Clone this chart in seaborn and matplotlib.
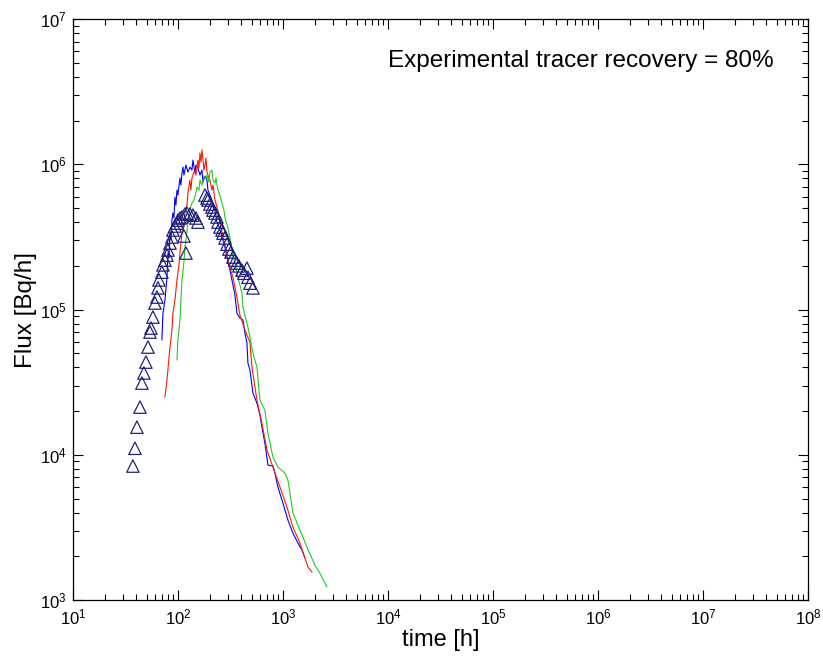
import numpy as np
import pandas as pd
import matplotlib
matplotlib.use('Agg')
import matplotlib.pyplot as plt
from matplotlib.ticker import LogLocator, NullFormatter
import seaborn as sns

# measured tracer breakthrough (open triangles)
obs_time = [37.0, 38.7, 40.4, 43.2, 45.1, 47.1, 49.2, 51.5, 53.8, 55.0, 57.4, 60.0,
            62.7, 64.1, 65.5, 69.9, 71.5, 74.7, 78.1, 79.8, 83.4, 87.1, 89.0, 93.0,
            97.2, 99.3, 103.8, 108.5, 115.8, 121.0, 129.3, 138.0, 147.4, 154.0,
            118.4, 113.3,
            179.6, 187.7, 191.8, 200.4, 209.4, 214.1, 223.7, 233.7, 238.9, 249.6,
            260.8, 266.6, 278.5, 290.9, 304.0, 317.6, 331.9, 346.7, 362.3, 378.5,
            404.4, 422.6, 451.2, 461.1, 481.8, 514.6]
obs_flux = [8.37e3, 1.11e4, 1.55e4, 2.13e4, 3.12e4, 3.66e4, 4.35e4, 5.52e4, 7.00e4,
            7.46e4, 8.88e4, 1.11e5, 1.22e5, 1.41e5, 1.60e5, 1.81e5, 2.03e5, 2.19e5,
            2.37e5, 2.57e5, 2.87e5, 3.16e5, 3.53e5, 3.76e5, 3.94e5, 4.13e5, 4.27e5,
            4.34e5, 4.55e5, 4.62e5, 4.55e5, 4.47e5, 4.27e5, 4.00e5,
            2.45e5, 3.21e5,
            6.14e5, 5.86e5, 5.68e5, 5.33e5, 5.08e5, 4.84e5, 4.62e5, 4.34e5, 4.00e5,
            3.70e5, 3.53e5, 3.36e5, 3.11e5, 2.82e5, 2.61e5, 2.49e5, 2.30e5, 2.19e5,
            2.09e5, 2.00e5, 1.87e5, 1.78e5, 1.93e5, 1.67e5, 1.52e5, 1.41e5]

# simulated curves
blue_time = [69.9, 71.5, 74.7, 78.1, 79.8, 81.5, 83.4, 85.2, 87.1, 89.0, 91.0, 93.0,
             95.1, 97.2, 99.3, 103.8, 106.1, 108.5, 110.9, 113.3, 118.4, 123.7, 129.3,
             135.0, 138.0, 144.2, 147.4, 154.0, 161.0, 168.2, 171.9, 179.6, 187.7,
             191.8, 200.4, 209.4, 214.1, 223.7, 233.7, 244.1, 249.6, 260.8, 278.5,
             297.4, 310.8, 324.7, 346.7, 362.3, 387.0, 413.3, 431.8, 451.2, 461.1,
             481.8, 514.6, 561.7, 599.8, 626.7, 669.5, 715.0, 797.9, 833.8, 890.2,
             993.4, 1109, 1237, 1380, 1507, 1609]
blue_flux = [6.17e4, 9.46e4, 1.16e5, 1.67e5, 2.45e5, 2.26e5, 3.36e5, 3.01e5, 4.13e5,
             4.62e5, 4.27e5, 5.95e5, 5.24e5, 6.65e5, 6.14e5, 8.04e5, 7.20e5, 8.71e5,
             9.57e5, 8.43e5, 9.88e5, 8.85e5, 9.57e5, 9.13e5, 1.07e6, 8.71e5, 9.88e5,
             9.42e5, 8.43e5, 9.13e5, 7.55e5, 8.30e5, 7.79e5, 6.65e5, 6.14e5, 5.68e5,
             5.08e5, 4.84e5, 4.00e5, 3.76e5, 3.53e5, 3.16e5, 2.69e5, 2.12e5, 1.87e5,
             1.60e5, 1.26e5, 9.46e4, 8.74e4, 8.47e4, 6.89e4, 5.88e4, 4.28e4, 3.83e4,
             2.66e4, 2.27e4, 1.88e4, 1.55e4, 1.20e4, 8.50e3, 8.37e3, 7.49e3, 6.00e3,
             4.65e3, 3.55e3, 2.89e3, 2.47e3, 2.21e3, 1.95e3]

red_time = [74.7, 78.1, 83.4, 87.1, 89.0, 93.0, 97.2, 101.6, 103.8, 108.5, 113.3, 115.8,
            121.0, 123.7, 129.3, 132.1, 135.0, 141.1, 144.2, 147.4, 154.0, 157.5, 161.0,
            164.5, 168.2, 171.9, 175.7, 179.6, 183.6, 187.7, 191.8, 200.4, 209.4, 214.1,
            223.7, 233.7, 244.1, 249.6, 260.8, 266.6, 278.5, 297.4, 310.8, 331.9, 362.3,
            387.0, 431.8, 481.8, 503.4, 561.7, 626.7, 699.5, 797.9, 930.3, 1085, 1237,
            1442, 1719, 1877]
red_flux = [2.50e4, 3.27e4, 5.52e4, 7.23e4, 9.46e4, 1.16e5, 1.60e5, 2.03e5, 2.45e5,
            3.36e5, 3.77e5, 4.62e5, 5.24e5, 6.34e5, 7.79e5, 6.65e5, 8.04e5, 8.85e5,
            9.13e5, 8.43e5, 1.07e6, 9.42e5, 1.195e6, 1.036e6, 1.254e6, 1.104e6, 9.13e5,
            9.88e5, 1.104e6, 8.85e5, 8.43e5, 7.79e5, 6.65e5, 7.20e5, 5.68e5, 5.08e5,
            4.47e5, 3.94e5, 3.42e5, 3.16e5, 2.78e5, 2.19e5, 1.93e5, 1.67e5, 1.22e5,
            9.16e4, 7.23e4, 5.97e4, 4.02e4, 2.38e4, 1.65e4, 1.08e4, 8.24e3, 6.00e3,
            4.37e3, 3.18e3, 2.47e3, 1.69e3, 1.56e3]

green_time = [97.2, 99.3, 103.8, 106.1, 108.5, 113.3, 115.8, 121.0, 123.7, 129.3, 135.0,
              141.1, 144.2, 150.7, 157.5, 161.0, 168.2, 175.7, 183.6, 187.7, 196.0,
              200.4, 209.4, 214.1, 223.7, 228.6, 238.9, 249.6, 260.8, 272.4, 278.5,
              297.4, 310.8, 331.9, 346.7, 370.3, 404.4, 413.3, 461.1, 514.6, 561.7,
              599.8, 669.5, 715.0, 797.9, 890.2, 1038, 1109, 1237, 1442, 1681, 2004,
              2236, 2608]
green_flux = [4.49e4, 6.17e4, 8.47e4, 1.16e5, 1.60e5, 2.12e5, 2.69e5, 3.42e5, 4.13e5,
              4.84e5, 5.41e5, 5.68e5, 5.95e5, 6.97e5, 6.65e5, 7.79e5, 7.20e5, 8.30e5,
              8.04e5, 8.43e5, 7.55e5, 8.85e5, 9.13e5, 7.79e5, 7.43e5, 8.04e5, 6.65e5,
              6.14e5, 5.41e5, 4.84e5, 4.33e5, 3.64e5, 3.16e5, 2.30e5, 2.12e5, 1.67e5,
              1.30e5, 1.04e5, 7.58e4, 5.02e4, 4.02e4, 2.38e4, 2.03e4, 1.41e4, 9.65e3,
              8.24e3, 7.49e3, 6.70e3, 3.97e3, 3.03e3, 2.32e3, 1.74e3, 1.53e3, 1.23e3]

sns.set_theme(style='ticks')
plt.rcParams['font.family'] = ['Liberation Sans', 'DejaVu Sans']
plt.rcParams['mathtext.default'] = 'regular'
plt.rcParams['text.color'] = 'black'
plt.rcParams['axes.labelcolor'] = 'black'

fig = plt.figure(figsize=(8.23, 6.58), dpi=100)
ax = fig.add_axes([0.089, 0.088, 0.893, 0.883])

sns.lineplot(x=blue_time, y=blue_flux, sort=False, estimator=None, color='#0000ff',
             linewidth=0.8, ax=ax)
sns.lineplot(x=red_time, y=red_flux, sort=False, estimator=None, color='#ff1a00',
             linewidth=0.8, ax=ax)
sns.lineplot(x=green_time, y=green_flux, sort=False, estimator=None, color='#1fcc1f',
             linewidth=0.8, ax=ax)
sns.scatterplot(x=obs_time, y=obs_flux, marker='^', s=80, facecolor='none',
                edgecolor='#22227a', linewidth=0.9, ax=ax, zorder=3)

ax.set_xscale('log')
ax.set_yscale('log')
ax.set_xlim(1e1, 1e8)
ax.set_ylim(1e3, 1e7)
ax.xaxis.set_major_locator(LogLocator(base=10, numticks=20))
ax.xaxis.set_minor_locator(LogLocator(base=10, subs=np.arange(2, 10), numticks=100))
ax.xaxis.set_minor_formatter(NullFormatter())
ax.yaxis.set_minor_formatter(NullFormatter())

ax.tick_params(which='both', direction='in', top=True, right=True, colors='black',
               labelcolor='black', labelsize=12)
ax.tick_params(axis='x', which='major', pad=5)
ax.tick_params(axis='y', which='major', pad=5)
ax.tick_params(which='major', length=7, width=0.8)
ax.tick_params(which='minor', length=4, width=0.8)
for s in ax.spines.values():
    s.set_color('black')
    s.set_linewidth(0.9)

ax.set_xlabel('time [h]', fontsize=17)
ax.set_ylabel('Flux [Bq/h]', fontsize=17.5)
ax.xaxis.set_label_coords(0.5, -0.05)
ax.yaxis.set_label_coords(-0.05, 0.5)
ax.text(0.428, 0.927, 'Experimental tracer recovery = 80%', transform=ax.transAxes,
        fontsize=17.5, va='center', ha='left')

plt.savefig('out.png', dpi=100)
plt.close()
